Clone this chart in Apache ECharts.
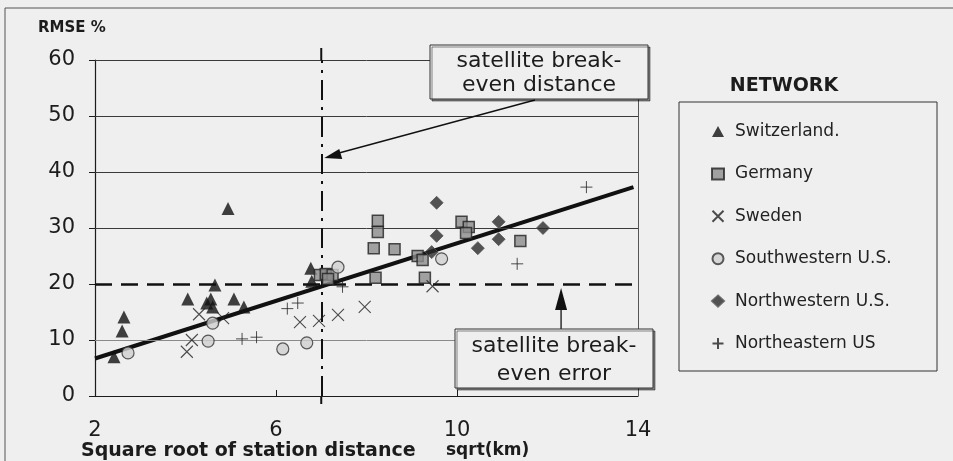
<!DOCTYPE html>
<html>
<head>
<meta charset="utf-8">
<script src="https://cdn.jsdelivr.net/npm/echarts@6/dist/echarts.min.js"></script>
<style>
  html, body { margin: 0; padding: 0; background: #efefef; }
  #chart { width: 953px; height: 461px; }
</style>
</head>
<body>
<div id="chart"></div>
<script>
// data: [sqrt(km), RMSE %]
const swiss = [[2.42, 7.0], [2.6, 11.6], [2.64, 14.1], [4.05, 17.3], [4.47, 16.6], [4.56, 17.3], [4.6, 15.9],
  [4.65, 19.8], [4.94, 33.5], [5.07, 17.3], [5.29, 15.9], [6.77, 22.8], [6.79, 20.5]]
const germany = [[6.97, 21.6], [7.1, 21.8], [7.25, 21.6], [7.15, 20.9], [8.2, 21.1], [8.16, 26.4], [8.25, 29.3],
  [8.25, 31.3], [8.62, 26.2], [9.13, 25.0], [9.24, 24.3], [9.29, 21.1], [10.1, 31.1], [10.26, 30.2], [10.2, 29.1], [11.4, 27.7]]
const sweden = [[4.03, 7.9], [4.14, 10.0], [4.3, 14.6], [4.83, 13.9], [6.53, 13.2], [6.95, 13.4], [7.37, 14.5],
  [7.96, 15.9], [9.46, 19.6]]
const southwest = [[2.73, 7.7], [4.5, 9.8], [4.6, 13.0], [6.15, 8.4], [6.68, 9.5], [7.37, 23.0], [9.66, 24.5]]
const northwest = [[9.44, 25.7], [9.55, 28.6], [9.55, 34.5], [10.46, 26.4], [10.92, 28.0], [10.92, 31.1], [11.9, 30.0]]
const northeast = [[5.25, 10.2], [5.57, 10.5], [6.25, 15.6], [6.48, 16.6], [7.47, 19.5], [11.33, 23.6], [12.86, 37.3]]
// regression line end points
const trend = [[2, 6.7], [13.9, 37.3]]
// break-even values
const breakEvenDistance = 7
const breakEvenError = 20
const gridValues = [10, 30, 40, 50, 60]

const FONT = 'DejaVu Sans'
const INK = '#1c1c1c'
const chart = echarts.init(document.getElementById('chart'))

// symbols with strokes only
const crossPath = 'path://M0,0L10,10M10,0L0,10'
const plusPath = 'path://M5,0L5,10M0,5L10,5'

function scatter(name, data, symbol, size, style) {
  return { name, type: 'scatter', data, symbol, symbolSize: size, itemStyle: style, z: 5 }
}

const option = {
  backgroundColor: '#efefef',
  animation: false,
  grid: { left: 95, right: 315, top: 60, bottom: 65 },
  xAxis: {
    type: 'value', min: 2, max: 14, interval: 4,
    axisLine: { lineStyle: { color: INK, width: 1.2 } },
    axisTick: { inside: true, length: 6, lineStyle: { color: INK } },
    axisLabel: { fontFamily: FONT, fontSize: 21, color: INK, margin: 24 },
    splitLine: { show: false }
  },
  yAxis: {
    type: 'value', min: 0, max: 60, interval: 10,
    axisLine: { show: true, lineStyle: { color: INK, width: 1.2 } },
    axisTick: { show: true, length: 6, lineStyle: { color: INK } },
    axisLabel: { fontFamily: FONT, fontSize: 21, color: INK, margin: 20 },
    splitLine: { show: false }
  },
  legend: {
    orient: 'vertical', left: 710, top: 123, padding: 0,
    itemGap: 25.4, itemWidth: 12, itemHeight: 11,
    textStyle: { fontFamily: FONT, fontSize: 17, color: '#222', lineHeight: 16, padding: [0, 0, 0, 6] },
    data: ['Switzerland.', 'Germany', 'Sweden', 'Southwestern U.S.', 'Northwestern U.S.', 'Northeastern US']
  },
  series: [
    {
      // gridlines, frame and break-even lines
      type: 'line', data: [], silent: true,
      markLine: {
        symbol: 'none', silent: true, label: { show: false },
        data: [
          ...gridValues.map(v => ({ yAxis: v, lineStyle: { color: v === 10 ? '#8a8a8a' : '#3a3a3a', width: 1, type: 'solid' } })),
          { xAxis: 14, lineStyle: { color: '#555', width: 1, type: 'solid' } },
          { yAxis: breakEvenError, lineStyle: { color: '#111', width: 2.6, type: [17, 9] } },
          { xAxis: breakEvenDistance, lineStyle: { color: '#111', width: 2, type: [20, 7, 3, 7] } }
        ]
      }
    },
    {
      type: 'line', data: trend, symbol: 'none', silent: true, z: 4,
      lineStyle: { color: '#111', width: 4 }
    },
    scatter('Switzerland.', swiss, 'triangle', 13, { color: '#111' }),
    scatter('Germany', germany, 'rect', 11, { color: '#8c8c8c', borderColor: '#222', borderWidth: 1.5 }),
    scatter('Sweden', sweden, crossPath, 12, { color: 'none', borderColor: '#222', borderWidth: 1.1 }),
    scatter('Southwestern U.S.', southwest, 'circle', 12, { color: '#cfcfcf', borderColor: '#333', borderWidth: 1.2 }),
    scatter('Northwestern U.S.', northwest, 'diamond', 13, { color: '#2a2a2a', borderColor: '#555', borderWidth: 1 }),
    scatter('Northeastern US', northeast, plusPath, 12, { color: 'none', borderColor: '#222', borderWidth: 1 })
  ]
}
chart.setOption(option)

// annotation boxes, arrows and titles
const boxStyle = { fill: '#efefef', stroke: '#333', lineWidth: 1, shadowColor: 'rgba(0,0,0,0.45)', shadowOffsetX: 2, shadowOffsetY: 2, shadowBlur: 0 }
const tip = chart.convertToPixel({ gridIndex: 0 }, [breakEvenDistance, 42.5])
const errTip = chart.convertToPixel({ gridIndex: 0 }, [12.3, breakEvenError])

function label(x, y, str, size, bold, align) {
  return {
    type: 'text', x, y, z: 17,
    style: { text: str, fontFamily: FONT, fontSize: size, fontWeight: bold ? 'bold' : 'normal', fill: INK, textAlign: align || 'left', textVerticalAlign: 'middle' }
  }
}

chart.setOption({
  graphic: [
    // outer frame
    { type: 'line', shape: { x1: 5, y1: 8, x2: 953, y2: 8 }, style: { stroke: '#555', lineWidth: 1 } },
    { type: 'line', shape: { x1: 5, y1: 8, x2: 5, y2: 461 }, style: { stroke: '#555', lineWidth: 1 } },
    // axis titles
    label(38, 28, 'RMSE %', 15, true),
    label(81, 451, 'Square root of station distance', 19, true),
    label(446, 451, 'sqrt(km)', 17, true),
    // extension of break-even distance line
    { type: 'line', shape: { x1: tip[0], y1: 48, x2: tip[0], y2: 60 }, style: { stroke: '#111', lineWidth: 2 } },
    { type: 'line', shape: { x1: tip[0], y1: 396, x2: tip[0], y2: 404 }, style: { stroke: '#111', lineWidth: 2 } },
    // legend
    { type: 'rect', shape: { x: 679, y: 102, width: 258, height: 269 }, style: { fill: 'none', stroke: '#333', lineWidth: 1 }, z: 1 },
    label(784, 86, 'NETWORK', 19, true, 'center'),
    // break-even distance box
    { type: 'line', z: 15, shape: { x1: 535, y1: 100, x2: tip[0] + 14, y2: tip[1] - 4 }, style: { stroke: '#111', lineWidth: 1.3 } },
    { type: 'polygon', z: 15, shape: { points: [[tip[0] + 3, tip[1]], [tip[0] + 18, tip[1] - 9], [tip[0] + 21, tip[1] + 1]] }, style: { fill: '#111' } },
    { type: 'rect', z: 16, shape: { x: 430, y: 45, width: 218, height: 54 }, style: boxStyle },
    label(539, 61, 'satellite break-', 22, false, 'center'),
    label(539, 85, 'even distance', 22, false, 'center'),
    // break-even error box
    { type: 'line', z: 15, shape: { x1: errTip[0], y1: errTip[1] + 24, x2: errTip[0], y2: 329 }, style: { stroke: '#111', lineWidth: 1.3 } },
    { type: 'polygon', z: 15, shape: { points: [[errTip[0], errTip[1] + 4], [errTip[0] - 6, errTip[1] + 26], [errTip[0] + 6, errTip[1] + 26]] }, style: { fill: '#111' } },
    { type: 'rect', z: 16, shape: { x: 455, y: 329, width: 198, height: 59 }, style: boxStyle },
    label(554, 346, 'satellite break-', 22, false, 'center'),
    label(554, 374, 'even error', 22, false, 'center')
  ]
})
</script>
</body>
</html>
